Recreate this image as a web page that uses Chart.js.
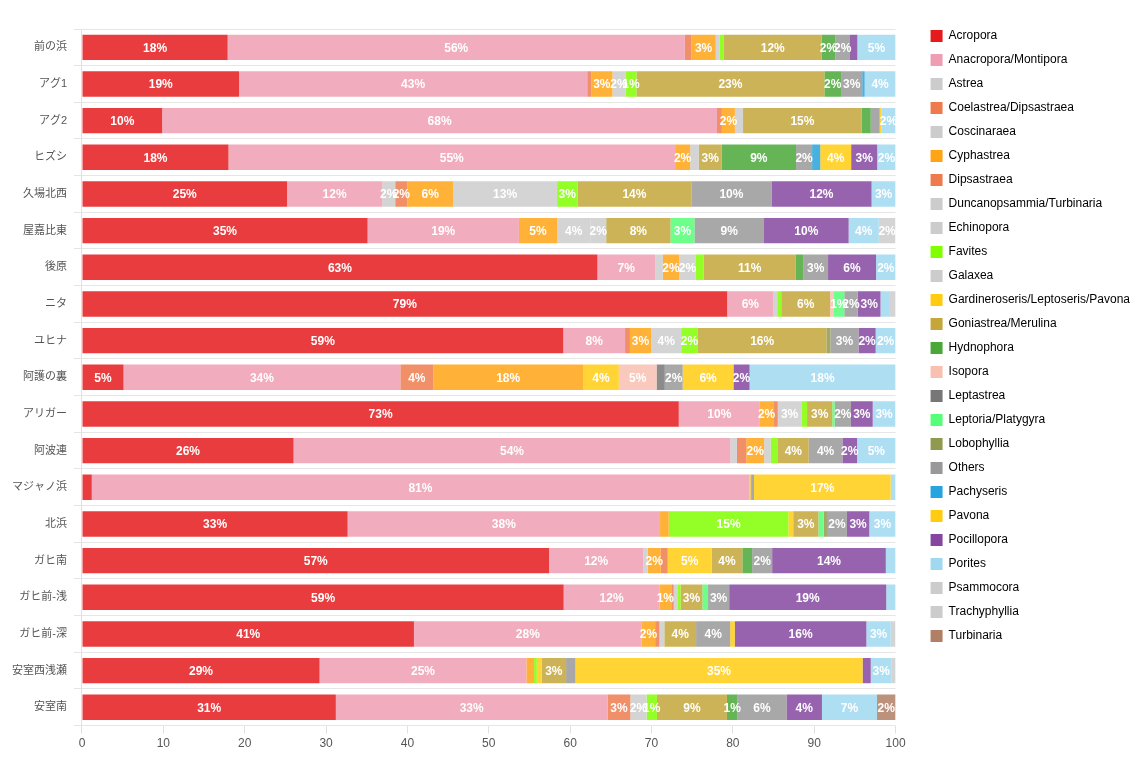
<!DOCTYPE html>
<html>
<head>
<meta charset="utf-8">
<script src="https://cdn.jsdelivr.net/npm/chart.js@4/dist/chart.umd.min.js"></script>
<style>
html,body{margin:0;padding:0;background:#fff;}
#wrap{width:1148px;height:760px;}
</style>
</head>
<body>
<div id="wrap"><canvas id="c" width="1148" height="760"></canvas></div>
<script>
const sites = ['前の浜','アグ1','アグ2','ヒズシ','久場北西','屋嘉比東','後原','ニタ','ユヒナ','阿護の裏','アリガー','阿波連','マジャノ浜','北浜','ガヒ南','ガヒ前-浅','ガヒ前-深','安室西浅瀬','安室南'];
const xTicks = [0,10,20,30,40,50,60,70,80,90,100];

const acropora       = [17.9,19.3,9.85,18.0,25.2,35.1,63.35,79.3,59.15,5.1,73.35,26.0,1.2,32.65,57.4,59.2,40.8,29.2,31.2];
const anacropora     = [56.2,42.8,68.2,54.9,11.7,18.6,7.1,5.7,7.6,34.03,9.97,53.7,80.8,38.4,11.6,11.78,28.0,25.42,33.4];
const astrea         = [0,0,0,0,1.6,0,0.95,0,0,0,0,0.8,0,0,0.53,0,0,0,0];
const coelastrea     = [0.8,0.5,0.6,0,1.5,0,0,0,0.6,4.05,0,1.15,0,0,0,0,0,0,2.8];
const coscinaraea    = [0,0,0,0,0,0,0,0,0,0,0,0,0,0,0,0,0,0,2.0];
const cyphastrea     = [3.0,2.6,1.6,1.85,5.6,4.7,2.0,0,2.6,18.4,1.65,2.2,0,1.07,1.6,1.45,1.65,0.95,0];
const dipsastraea    = [0,0,0,0,0,0,0,0,0,0,0.55,0,0,0,0.86,0.3,0.53,0,0];
const duncanopsammia = [0,0,0,0,0,0,0,0,0,0,0,0,0,0,0,0,0,0,0];
const echinopora     = [0.5,1.6,1.0,1.07,12.8,4.06,2.05,0.45,3.7,0,2.9,0.8,0,0,0,0.45,0.6,0,0];
const favites        = [0.5,1.35,0,0,2.5,0,0.95,0.5,2.05,0,0.7,0.9,0,14.7,0,0.4,0,0.33,1.27];
const galaxea        = [0,0,0,0,0,1.97,0,0,0,0,0,0,0,0,0,0,0,0,0];
const gardineroseris = [0,0,0,0,0,0,0,0,0,4.4,0,0,0.15,0.6,5.4,0,0,0.6,0];
const goniastrea     = [12.0,23.1,14.6,2.8,14.0,7.9,11.35,6.0,15.8,0,3.1,3.77,0.2,3.1,3.78,2.67,3.9,3.0,8.6];
const hydnophora     = [1.7,2.05,1.1,9.15,0,0,0.9,0,0,0,0,0,0,0,1.2,0,0,0,1.3];
const isopora        = [0,0,0,0,0,0,0,0.4,0,4.65,0,0,0,0,0,0,0,0,0];
const leptastrea     = [0,0,0,0,0,0,0,0,0,1.0,0,0,0,0,0,0,0,0,0];
const leptoria       = [0,0,0,0,0,2.95,0,1.35,0,0,0.3,0,0,0.65,0,0.7,0,0,0];
const lobophyllia    = [0,0,0,0,0,0,0,0,0.5,0,0,0,0,0.4,0,0,0,0,0];
const others         = [1.8,2.6,1.1,1.97,9.85,8.55,3.05,1.65,3.45,2.2,2.0,4.15,0.25,2.45,2.46,2.6,4.19,1.15,6.03];
const pachyseris     = [0,0.3,0,1.0,0,0,0,0,0,0,0,0,0,0,0,0,0,0,0];
const pavona         = [0,0,0.2,3.8,0,0,0,0,0,6.25,0,0,16.8,0,0,0,0.57,35.3,0];
const pocillopora    = [0.9,0,0,3.2,12.3,10.4,5.9,2.8,2.1,1.97,2.67,1.8,0,2.75,13.97,19.3,16.17,1.0,4.35];
const porites        = [4.7,3.8,1.75,2.26,2.95,3.7,2.4,1.05,2.45,17.95,2.8,4.73,0.6,3.23,1.2,1.15,3.0,2.55,6.77];
const psammocora     = [0,0,0,0,0,2.05,0,0.8,0,0,0,0,0,0,0,0,0.57,0.5,0];
const trachyphyllia  = [0,0,0,0,0,0,0,0,0,0,0,0,0,0,0,0,0,0,0];
const turbinaria     = [0,0,0,0,0,0,0,0,0,0,0,0,0,0,0,0,0,0,2.28];

const seriesNames = ['Acropora','Anacropora/Montipora','Astrea','Coelastrea/Dipsastraea','Coscinaraea','Cyphastrea','Dipsastraea','Duncanopsammia/Turbinaria','Echinopora','Favites','Galaxea','Gardineroseris/Leptoseris/Pavona','Goniastrea/Merulina','Hydnophora','Isopora','Leptastrea','Leptoria/Platygyra','Lobophyllia','Others','Pachyseris','Pavona','Pocillopora','Porites','Psammocora','Trachyphyllia','Turbinaria'];
const seriesValues = [acropora,anacropora,astrea,coelastrea,coscinaraea,cyphastrea,dipsastraea,duncanopsammia,echinopora,favites,galaxea,gardineroseris,goniastrea,hydnophora,isopora,leptastrea,leptoria,lobophyllia,others,pachyseris,pavona,pocillopora,porites,psammocora,trachyphyllia,turbinaria];
const seriesColors = ['#e41a1c','#ee9db2','#cccccc','#ee7b4e','#cccccc','#ffa414','#ee7b4e','#cccccc','#cccccc','#80ff00','#cccccc','#ffcc11','#c4a63a','#4aa838','#f7c0b0','#777777','#55ff77','#8f9a4f','#999999','#27a3dd','#ffcc11','#8546a0','#a0d8f0','#cccccc','#cccccc','#b07f65'];

function withAlpha(hex, a){
  const r=parseInt(hex.slice(1,3),16), g=parseInt(hex.slice(3,5),16), b=parseInt(hex.slice(5,7),16);
  return 'rgba('+r+','+g+','+b+','+a+')';
}

const FONT = "'Helvetica Neue', Helvetica, Arial, 'Noto Sans CJK JP', sans-serif";
Chart.defaults.font.family = FONT;
Chart.defaults.font.size = 12;
Chart.defaults.color = '#555';

const valueLabels = {
  id: 'valueLabels',
  afterDatasetsDraw(chart) {
    const ctx = chart.ctx;
    ctx.save();
    ctx.font = 'bold 12px ' + FONT;
    ctx.fillStyle = '#ffffff';
    ctx.textAlign = 'center';
    ctx.textBaseline = 'middle';
    chart.data.datasets.forEach((ds, i) => {
      const meta = chart.getDatasetMeta(i);
      if (!chart.isDatasetVisible(i)) return;
      meta.data.forEach((bar, j) => {
        const v = ds.data[j];
        if (v >= 1.25) {
          ctx.fillText(Math.round(v) + '%', (bar.x + bar.base) / 2, bar.y + 1);
        }
      });
    });
    ctx.restore();
  }
};

const datasets = seriesNames.map((name, i) => ({
  label: name,
  data: seriesValues[i],
  backgroundColor: withAlpha(seriesColors[i], 0.85),
  borderWidth: 0,
  barPercentage: 0.9,
  categoryPercentage: 0.77
}));

new Chart(document.getElementById('c'), {
  type: 'bar',
  data: { labels: sites, datasets },
  options: {
    indexAxis: 'y',
    responsive: false,
    animation: false,
    layout: { padding: { left: 5, top: 18, right: 8, bottom: 6 } },
    plugins: {
      title: { display: true, text: ' ', fullSize: false, font: { size: 10, lineHeight: 1 }, padding: { top: 0, bottom: 1 } },
      tooltip: { enabled: false },
      legend: {
        position: 'right',
        align: 'start',
        maxWidth: 223,
        labels: {
          boxWidth: 12,
          boxHeight: 12,
          padding: 12,
          color: '#333',
          font: { size: 12 },
          generateLabels(chart) {
            return chart.data.datasets.map((ds, i) => ({
              text: ds.label,
              fillStyle: seriesColors[i],
              strokeStyle: seriesColors[i],
              lineWidth: 0,
              hidden: false,
              datasetIndex: i
            }));
          }
        }
      }
    },
    scales: {
      x: {
        stacked: true,
        min: 0,
        max: 100,
        afterBuildTicks(scale) { scale.ticks = xTicks.map(v => ({ value: v })); },
        grid: { drawOnChartArea: false, color: '#e0e0e0' },
        border: { display: false },
        ticks: { color: '#555' }
      },
      y: {
        stacked: true,
        grid: { color: '#e6e6e6', lineWidth: 1 },
        border: { color: '#e0e0e0' },
        ticks: { color: '#555', padding: 7, font: { size: 11 } }
      },
      gap: {
        type: 'linear',
        position: 'right',
        display: false,
        afterFit(s) { s.width = 23; }
      }
    }
  },
  plugins: [valueLabels]
});
</script>
</body>
</html>
